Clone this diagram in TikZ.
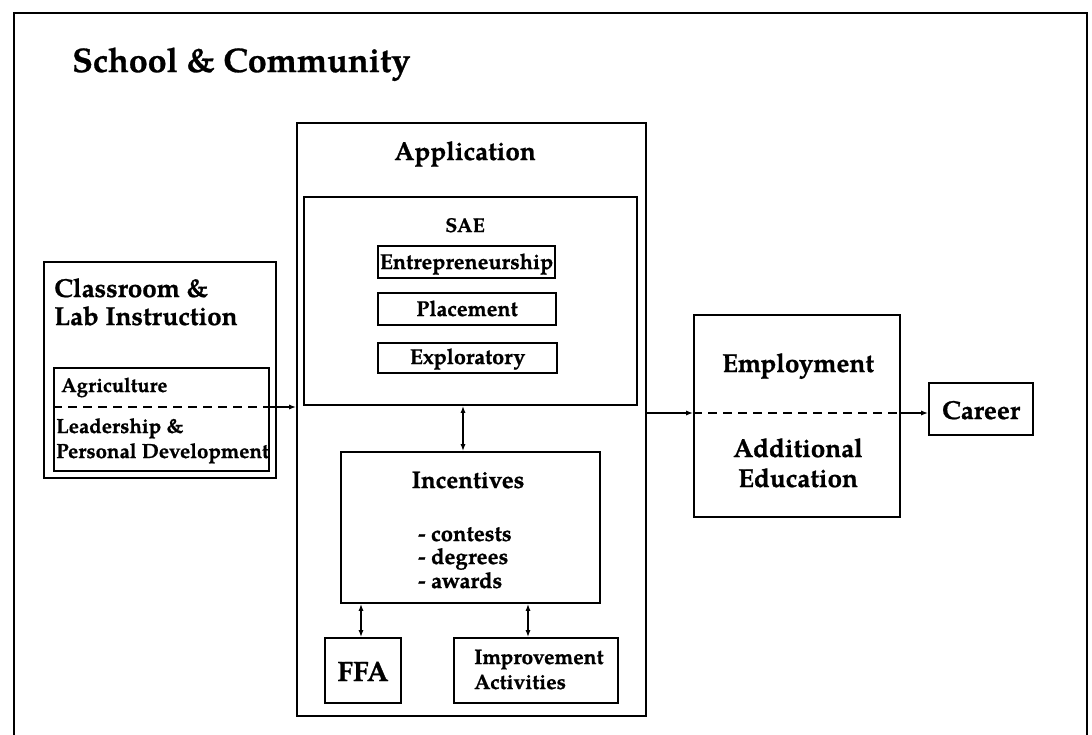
\documentclass[tikz,border=0pt]{standalone}
\usepackage{fontspec}
\setmainfont{texgyrepagella}[Extension=.otf,UprightFont=*-regular,BoldFont=*-bold,ItalicFont=*-italic,BoldItalicFont=*-bolditalic,BoldFeatures={FakeBold=0.8}]
\usetikzlibrary{arrows.meta,fit}
\newcommand{\fsz}[1]{\fontsize{#1}{#1}\selectfont\bfseries}
\tikzset{
  box/.style={draw, line width=1.6pt, inner sep=0pt, rectangle},
  lbl/.style={inner sep=0pt, anchor=base},
  lblw/.style={inner sep=0pt, anchor=base west},
  arr/.style={line width=1.4pt, -{Latex[length=7pt,width=5pt]}},
  darr/.style={line width=1.4pt, {Latex[length=7pt,width=5pt]}-{Latex[length=7pt,width=5pt]}},
  dsh/.style={line width=1.4pt, dash pattern=on 9pt off 6pt},
}
\begin{document}
\begin{tikzpicture}[x=1pt,y=-1pt]
\useasboundingbox (0,0) rectangle (1092,735);
% outer frame (open at bottom)
\draw[line width=2pt] (14,735) -- (14,13) -- (1087,13) -- (1087,735);
\node[lblw, font=\fsz{34}] (title) at (72,72) {School \& Community};

% Classroom
\node[box, fit={(44,262)(276,478)}] (cls) {};
\node[lblw, font=\fsz{26}] (cls1) at (54,297) {Classroom \&};
\node[lblw, font=\fsz{26}] (cls2) at (54,325) {Lab Instruction};
\node[box, fit={(54,368)(269,471)}] (inner) {};
\node[lblw, font=\fsz{20}] (agr) at (61,392) {Agriculture};
\node[lblw, font=\fsz{20.5}] (lead1) at (56,433) {Leadership \&};
\node[lblw, font=\fsz{20.5}] (lead2) at (56,458) {Personal Development};
\coordinate (dl) at (0,407);
\draw[dsh] (inner.west |- dl) -- (inner.east |- dl);

% Application
\node[box, fit={(297,123)(646,716)}] (app) {};
\node[lbl, font=\fsz{26}] (apptxt) at (465,160) {Application};
\node[box, fit={(304,197)(637,405)}] (sae) {};
\node[lbl, font=\fsz{20}] (saetxt) at (465,232) {SAE};
\node[box, fit={(378,246)(555,278)}] (ent) {};
\node[lbl, font=\fsz{21.5}] (enttxt) at (466.5,269) {Entrepreneurship};
\node[box, fit={(378,293)(556,325)}] (pla) {};
\node[lbl, font=\fsz{21.5}] (platxt) at (467,316) {Placement};
\node[box, fit={(378,343)(557,373)}] (exp) {};
\node[lbl, font=\fsz{21.5}] (exptxt) at (467.5,364) {Exploratory};

\node[box, fit={(341,452)(600,603)}] (inc) {};
\node[lbl, font=\fsz{24}] (inctxt) at (468,488) {Incentives};
\node[lblw, font=\fsz{22}] (inc1) at (418,541) {- contests};
\node[lblw, font=\fsz{22}] (inc2) at (418,564) {- degrees};
\node[lblw, font=\fsz{22}] (inc3) at (418,588) {- awards};

\node[box, fit={(325,638)(401,703)}] (ffa) {};
\node[lbl, font=\fsz{28}] (ffatxt) at (363,681) {FFA};
\node[box, fit={(454,638)(618,703)}] (imp) {};
\node[lblw, font=\fsz{21}] (imp1) at (474,664) {Improvement};
\node[lblw, font=\fsz{21}] (imp2) at (474,689) {Activities};

\coordinate (xs) at (463,0);
\coordinate (xf) at (361,0);
\coordinate (xi) at (528,0);
\draw[darr] (sae.south -| xs) -- (inc.north -| xs);
\draw[darr] (inc.south -| xf) -- (ffa.north -| xf);
\draw[darr] (inc.south -| xi) -- (imp.north -| xi);

% Employment
\node[box, fit={(694,315)(900,517)}] (emp) {};
\node[lbl, font=\fsz{26}] (emptxt) at (798,372) {Employment};
\node[lbl, font=\fsz{26}] (add1) at (798,457) {Additional};
\node[lbl, font=\fsz{26}] (add2) at (798,487) {Education};

\node[box, fit={(929,383)(1033,435)}] (car) {};
\node[lbl, font=\fsz{26}] (cartxt) at (981,419) {Career};

\coordinate (dr) at (0,413);
\draw[arr] (inner.east |- dl) -- (app.west |- dl);
\draw[arr] (app.east |- dr) -- (emp.west |- dr);
\draw[dsh] (emp.west |- dr) -- (emp.east |- dr);
\draw[arr] (emp.east |- dr) -- (car.west |- dr);
\end{tikzpicture}
\end{document}
